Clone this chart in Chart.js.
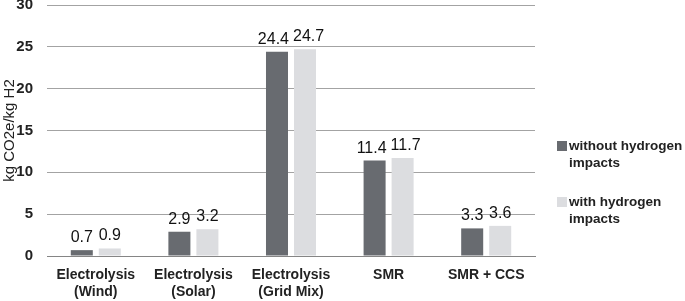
<!DOCTYPE html>
<html>
<head>
<meta charset="utf-8">
<script src="https://cdn.jsdelivr.net/npm/chart.js@4"></script>
<style>
  html, body { margin: 0; padding: 0; background: #fff; }
  #wrap { position: relative; width: 685px; height: 301px; }
  canvas { display: block; }
  #legend { position: absolute; left: 556px; top: 137px; font-family: "Liberation Sans", Arial, sans-serif; font-weight: bold; font-size: 13.5px; color: #222; white-space: nowrap; }
  #legend .item { position: relative; padding-left: 13px; line-height: 17px; margin-bottom: 22px; }
  #legend .box { position: absolute; left: 1px; top: 4px; width: 10px; height: 10px; }
</style>
</head>
<body>
<div id="wrap">
  <canvas id="chart" width="685" height="301"></canvas>
  <div id="legend"></div>
</div>
<script>
let categories = [["Electrolysis", "(Wind)"], ["Electrolysis", "(Solar)"], ["Electrolysis", "(Grid Mix)"], "SMR", "SMR + CCS"];
let withoutImpacts = [0.7, 2.9, 24.4, 11.4, 3.3];
let withImpacts = [0.9, 3.2, 24.7, 11.7, 3.6];
let seriesNames = [["without hydrogen", "impacts"], ["with hydrogen", "impacts"]];
let yTicks = [0, 5, 10, 15, 20, 25, 30];

let colors = ["#686b70", "#dcdde0"];
let fontFamily = "'Liberation Sans', Arial, sans-serif";

// value labels above the bars, pushed apart when two of them would touch
const barLabels = {
  id: "barLabels",
  afterDatasetsDraw(chart) {
    let ctx = chart.ctx;
    ctx.save();
    ctx.font = "16px " + fontFamily;
    ctx.fillStyle = "#111";
    ctx.textAlign = "center";
    ctx.textBaseline = "alphabetic";
    let left = chart.getDatasetMeta(0).data;
    let right = chart.getDatasetMeta(1).data;
    for (let j = 0; j < left.length; j++) {
      let t1 = withoutImpacts[j].toFixed(1);
      let t2 = withImpacts[j].toFixed(1);
      let w1 = ctx.measureText(t1).width;
      let w2 = ctx.measureText(t2).width;
      let need = w1 / 2 + w2 / 2 + 4;
      let have = right[j].x - left[j].x;
      let shift = need > have ? (need - have) / 2 : 0;
      ctx.fillText(t1, left[j].x - shift, left[j].y - 8);
      ctx.fillText(t2, right[j].x + shift, right[j].y - 8);
    }
    ctx.restore();
  }
};

let chart = new Chart(document.querySelector("#chart"), {
  type: "bar",
  data: {
    labels: categories,
    datasets: [
      { label: seriesNames[0].join(" "), data: withoutImpacts, backgroundColor: colors[0] },
      { label: seriesNames[1].join(" "), data: withImpacts, backgroundColor: colors[1] }
    ]
  },
  options: {
    responsive: false,
    animation: false,
    devicePixelRatio: 1,
    categoryPercentage: 0.574,
    barPercentage: 0.786,
    layout: { padding: { top: 5, right: 150, left: 0, bottom: 0 } },
    plugins: {
      legend: { display: false },
      tooltip: { enabled: false }
    },
    scales: {
      x: {
        afterFit: (axis) => { axis.height = 45; },
        grid: { display: false, drawTicks: false },
        border: { color: "#858585", width: 1 },
        ticks: {
          color: "#222",
          font: { family: fontFamily, size: 14, weight: "bold", lineHeight: 1.2 },
          padding: 11,
          maxRotation: 0
        }
      },
      y: {
        min: 0,
        max: 30,
        afterBuildTicks: (axis) => { axis.ticks = yTicks.map(v => ({ value: v })); },
        afterFit: (axis) => {
          axis.width = 47;
          axis.paddingTop = 0;
          axis.paddingBottom = 0;
        },
        grid: { color: "#a3a3a3", drawTicks: false },
        border: { display: false },
        ticks: {
          color: "#222",
          font: { family: fontFamily, size: 15, weight: "bold" },
          padding: 14
        },
        title: {
          display: true,
          text: "kg CO2e/kg H2",
          color: "#222",
          font: { family: fontFamily, size: 15 },
          padding: 1
        }
      }
    }
  },
  plugins: [barLabels]
});

// legend with wrapped names
let legend = document.querySelector("#legend");
seriesNames.forEach((name, i) => {
  let item = document.createElement("div");
  item.className = "item";
  item.innerHTML = `<span class="box" style="background:${colors[i]}"></span>${name.join("<br>")}`;
  legend.appendChild(item);
});
</script>
</body>
</html>
